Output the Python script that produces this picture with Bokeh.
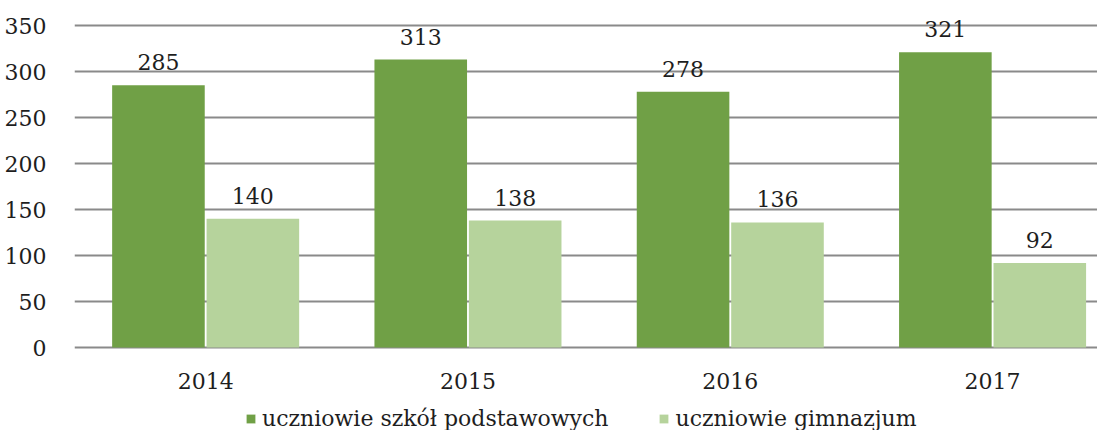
import numpy as np
from bokeh.plotting import figure
from bokeh.models import Range1d, FixedTicker, ColumnDataSource
from bokeh.core.properties import value
from bokeh.embed import file_html
from bokeh.resources import INLINE

years = ["2014", "2015", "2016", "2017"]
podstawowe = [285, 313, 278, 321]
gimnazjum = [140, 138, 136, 92]
series_names = ["uczniowie szkół podstawowych", "uczniowie gimnazjum"]
y_ticks = [0, 50, 100, 150, 200, 250, 300, 350]

DARK = "#70a046"
LIGHT = "#b6d39c"
FONT = "DejaVu Serif"
TXT = "#1e1e1e"
FS = "22px"

xc = np.arange(len(years)) + 0.5
off = 0.18
bw = 0.353

p = figure(width=1097, height=430, title=None,
           x_range=Range1d(0, 3.900), y_range=Range1d(-90.2, 377.2),
           x_axis_location=None, toolbar_location=None, output_backend="svg",
           min_border_left=74, min_border_right=0, min_border_top=0, min_border_bottom=0)
p.outline_line_color = None
p.background_fill_color = "white"
p.border_fill_color = "white"

p.xgrid.visible = False
p.yaxis.ticker = FixedTicker(ticks=y_ticks)
p.ygrid.ticker = FixedTicker(ticks=y_ticks)
p.ygrid.grid_line_color = "#8a8a8a"
p.ygrid.grid_line_width = 2
p.yaxis.axis_line_color = None
p.yaxis.major_tick_line_color = None
p.yaxis.minor_tick_line_color = None
p.yaxis.major_label_standoff = 22
p.yaxis.major_label_text_font = FONT
p.yaxis.major_label_text_font_size = FS
p.yaxis.major_label_text_color = TXT

src = ColumnDataSource(dict(x1=xc - off, x2=xc + off, xc=xc,
                            a=podstawowe, b=gimnazjum, yr=years,
                            al=[str(v) for v in podstawowe],
                            bl=[str(v) for v in gimnazjum],
                            zero=[0] * len(years)))

p.vbar(x="x1", top="a", width=bw, source=src, fill_color=DARK, line_color=None,
       legend_label=series_names[0])
p.vbar(x="x2", top="b", width=bw, source=src, fill_color=LIGHT, line_color=None,
       legend_label=series_names[1])

for xcol, ycol, lcol in (("x1", "a", "al"), ("x2", "b", "bl")):
    p.text(x=xcol, y=ycol, text=lcol, source=src, text_align="center",
           text_baseline="middle", y_offset=-23,
           text_font=value(FONT), text_font_size=FS, text_color=TXT)

p.text(x="xc", y="zero", text="yr", source=src, text_align="center",
       text_baseline="middle", y_offset=33,
       text_font=value(FONT), text_font_size=FS, text_color=TXT)

lg = p.legend[0]
lg.location = (171, -1)
lg.orientation = "horizontal"
lg.margin = 0
lg.padding = 0
lg.spacing = 50
lg.glyph_width = 11
lg.glyph_height = 11
lg.label_standoff = 6
lg.label_height = 20
lg.label_text_font = FONT
lg.label_text_font_size = FS
lg.label_text_color = TXT
lg.label_text_baseline = "middle"
lg.border_line_color = None
lg.background_fill_alpha = 0

open("out.html", "w").write(file_html(p, INLINE))
